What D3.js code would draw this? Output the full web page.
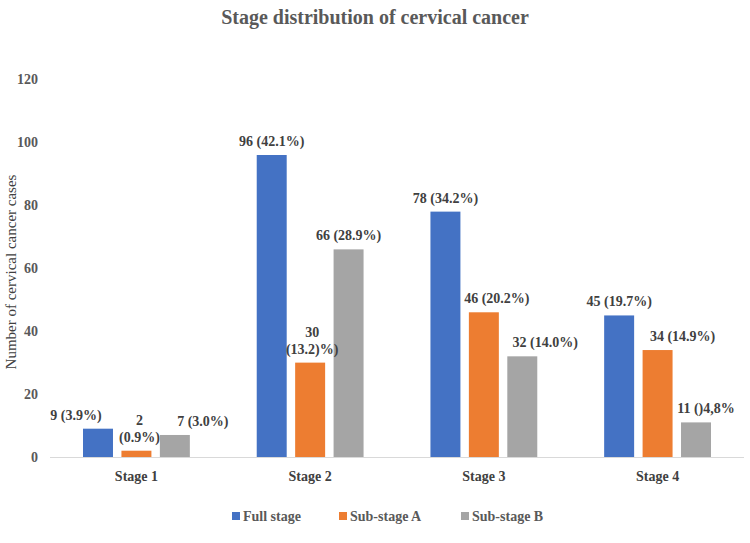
<!DOCTYPE html>
<html><head><meta charset="utf-8">
<script src="https://cdn.jsdelivr.net/npm/d3@7"></script>
<style>body{margin:0;background:#fff}svg{display:block}</style>
</head><body>
<svg id="c" width="750" height="543"></svg>
<script>
const categories = ["Stage 1", "Stage 2", "Stage 3", "Stage 4"];
const seriesNames = ["Full stage", "Sub-stage A", "Sub-stage B"];
const fullStage = [9, 96, 78, 45];
const subStageA = [2, 30, 46, 34];
const subStageB = [7, 66, 32, 11];
const labelsFull = [["9 (3.9%)"], ["96 (42.1%)"], ["78 (34.2%)"], ["45 (19.7%)"]];
const labelsA = [["2", "(0.9%)"], ["30", "(13.2)%)"], ["46 (20.2%)"], ["34 (14.9%)"]];
const labelsB = [["7 (3.0%)"], ["66 (28.9%)"], ["32 (14.0%)"], ["11 ()4,8%"]];
const yTicks = [0, 20, 40, 60, 80, 100, 120];

// layout (label nudges, in px, relative to bar centre)
const nudgeFull = [-22, 0, 0, 0];
const nudgeA = [3, 2, 13, 25];
const nudgeB = [28, 0, 23, 10];

const FONT = "'Liberation Serif', 'DejaVu Serif', serif";
const colors = ["#4472C4", "#ED7D31", "#A5A5A5"];
const seriesVals = [fullStage, subStageA, subStageB];
const seriesLabels = [labelsFull, labelsA, labelsB];
const seriesNudge = [nudgeFull, nudgeA, nudgeB];

const svg = d3.select("#c").attr("font-family", FONT);
const x = d3.scaleBand().domain(categories).range([50, 744]).paddingInner(0.385).paddingOuter(0.19);
const xs = d3.scaleBand().domain(seriesNames).range([0, x.bandwidth()]).paddingInner(0.22);
const y = d3.scaleLinear().domain([0, 120]).range([457, 79.5]);

svg.append("text").attr("x", 375).attr("y", 24).attr("text-anchor", "middle")
  .attr("font-size", 20).attr("font-weight", "bold").attr("fill", "#595959")
  .text("Stage distribution of cervical cancer");

const yAxis = svg.append("g").attr("transform", "translate(38,0)")
  .call(d3.axisLeft(y).tickValues(yTicks).tickSize(0).tickPadding(0));
yAxis.attr("font-family", FONT);
yAxis.select(".domain").remove();
yAxis.selectAll("text").attr("font-size", 14).attr("font-weight", "bold").attr("fill", "#595959");

svg.append("text").attr("transform", "translate(16,272) rotate(-90)").attr("text-anchor", "middle")
  .attr("font-size", 15).attr("fill", "#404040").text("Number of cervical cancer cases");

const bars = svg.append("g");
const labels = svg.append("g");
categories.forEach((c, i) => {
  seriesNames.forEach((s, j) => {
    const v = seriesVals[j][i];
    const bx = x(c) + xs(s);
    bars.append("rect").attr("x", bx).attr("y", y(v)).attr("width", xs.bandwidth())
      .attr("height", y(0) - y(v)).attr("fill", colors[j]);
    const lines = seriesLabels[j][i];
    const cx = bx + xs.bandwidth() / 2 + seriesNudge[j][i];
    const t = labels.append("text").attr("text-anchor", "middle").attr("font-size", 14)
      .attr("font-weight", "bold").attr("fill", "#404040");
    const n = lines.length;
    lines.forEach((ln, k) => {
      t.append("tspan").attr("x", cx).attr("y", y(v) - 9 - (n - 1 - k) * 17).text(ln);
    });
  });
});

const xAxis = svg.append("g").attr("transform", "translate(0,457.5)")
  .call(d3.axisBottom(x).tickSize(0).tickPadding(14));
xAxis.attr("font-family", FONT);
xAxis.select(".domain").attr("stroke", "#d9d9d9").attr("d", "M50,0H744");
xAxis.selectAll("text").attr("font-size", 14).attr("font-weight", "bold").attr("fill", "#404040");

const legX = [232, 339, 461];
seriesNames.forEach((s, j) => {
  svg.append("rect").attr("x", legX[j]).attr("y", 512).attr("width", 8).attr("height", 8).attr("fill", colors[j]);
  svg.append("text").attr("x", legX[j] + 11).attr("y", 521).attr("font-size", 14)
    .attr("font-weight", "bold").attr("fill", "#595959").text(s);
});
</script>
</body></html>
